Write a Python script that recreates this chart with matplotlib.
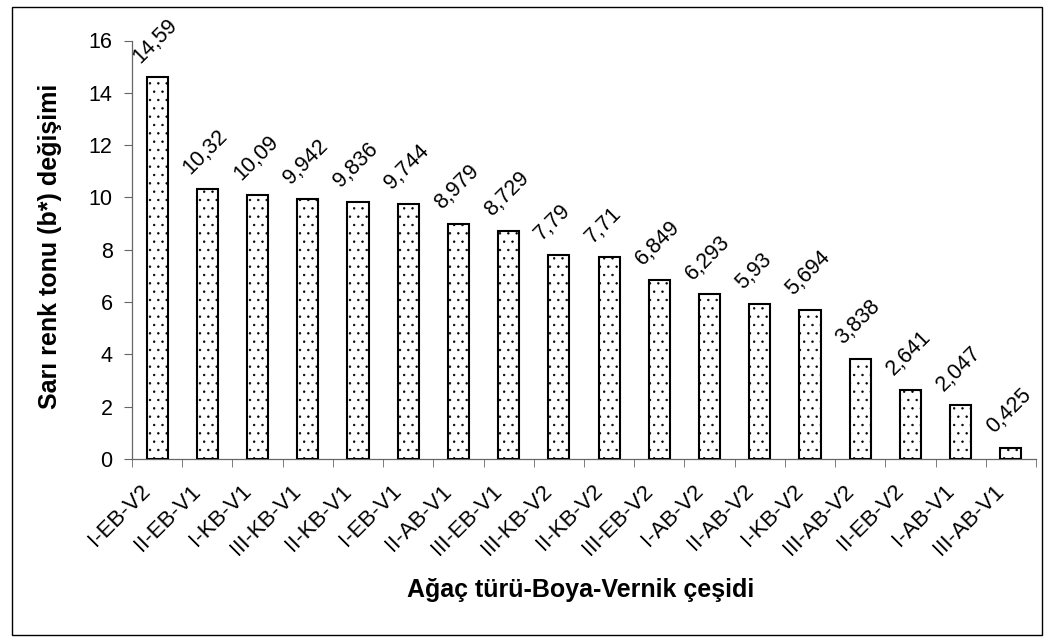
import matplotlib
matplotlib.use('Agg')
import matplotlib.pyplot as plt
import numpy as np
from matplotlib.patches import Rectangle
from matplotlib.transforms import ScaledTranslation

categories = ['I-EB-V2', 'II-EB-V1', 'I-KB-V1', 'III-KB-V1', 'II-KB-V1', 'I-EB-V1',
              'II-AB-V1', 'III-EB-V1', 'III-KB-V2', 'II-KB-V2', 'III-EB-V2', 'I-AB-V2',
              'II-AB-V2', 'I-KB-V2', 'III-AB-V2', 'II-EB-V2', 'I-AB-V1', 'III-AB-V1']
values = [14.59, 10.32, 10.09, 9.942, 9.836, 9.744, 8.979, 8.729, 7.79, 7.71,
          6.849, 6.293, 5.93, 5.694, 3.838, 2.641, 2.047, 0.425]
value_labels = ['14,59', '10,32', '10,09', '9,942', '9,836', '9,744', '8,979', '8,729',
                '7,79', '7,71', '6,849', '6,293', '5,93', '5,694', '3,838', '2,641',
                '2,047', '0,425']

plt.rcParams['font.family'] = ['Liberation Sans', 'DejaVu Sans']
plt.rcParams['hatch.color'] = '#777777'
plt.rcParams['hatch.linewidth'] = 0.5

fig = plt.figure(figsize=(10.56, 6.42), dpi=100)
# рамка вокруг всей диаграммы
fig.patches.append(Rectangle((12 / 1056, 7 / 642), 1030 / 1056, 628 / 642,
                             transform=fig.transFigure, fill=False,
                             edgecolor='black', linewidth=1))
ax = fig.add_axes([132 / 1056, 183 / 642, 904 / 1056, 418.5 / 642])

x = np.arange(len(categories))
ax.bar(x, values, width=0.42, color='white', edgecolor='black', linewidth=1.5,
       hatch='..', zorder=3)

for xi, v, lab in zip(x, values, value_labels):
    ax.annotate(lab, (xi, v), xytext=(-12, 10), textcoords='offset points',
                rotation=45, rotation_mode='anchor', ha='left', va='baseline',
                fontsize=15.5)

ax.set_xlim(-0.5, len(categories) - 0.5)
ax.set_ylim(0, 16)
ax.set_yticks(range(0, 17, 2))
ax.tick_params(axis='y', labelsize=15.5, direction='out', length=6, pad=8,
               color='#666666')
ax.set_xticks(x)
ax.set_xticklabels(categories, rotation=45, ha='right', va='center',
                   rotation_mode='anchor', fontsize=16)
ax.tick_params(axis='x', which='major', length=0, pad=21)
offset = ScaledTranslation(-7 / 72, 0, fig.dpi_scale_trans)
for lbl in ax.get_xticklabels():
    lbl.set_transform(lbl.get_transform() + offset)
ax.set_xticks(np.arange(-0.5, len(categories), 1), minor=True)
ax.tick_params(axis='x', which='minor', length=6, direction='out', color='#666666')

ax.spines['top'].set_visible(False)
ax.spines['right'].set_visible(False)
for s in ['left', 'bottom']:
    ax.spines[s].set_color('#666666')
    ax.spines[s].set_linewidth(0.9)

fig.text(50 / 1056, 1 - 246 / 642, 'Sarı renk tonu (b*) değişimi', rotation=90,
         ha='center', va='center', fontsize=18, fontweight='bold')
fig.text(581 / 1056, 1 - 590 / 642, 'Ağaç türü-Boya-Vernik çeşidi',
         ha='center', va='center', fontsize=18, fontweight='bold')

fig.savefig('out.png', dpi=100)
